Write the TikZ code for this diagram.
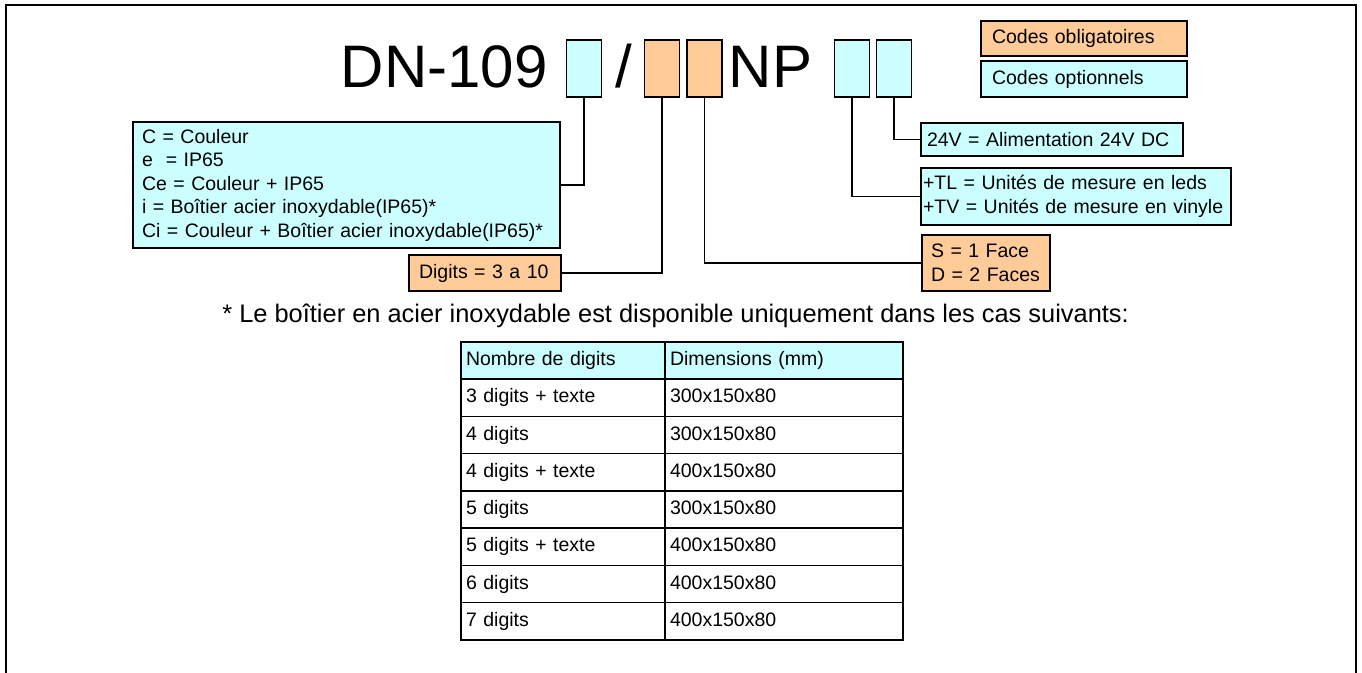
\documentclass[tikz,border=0pt]{standalone}
\usepackage{fontspec}
\setmainfont{Liberation Sans}
\usetikzlibrary{positioning}

\definecolor{optcyan}{HTML}{CCFFFF}
\definecolor{oblorange}{HTML}{FFCC99}

\begin{document}
\begin{tikzpicture}
	[x=0.5pt,y=-0.5pt,
	code node/.style={draw,line width=0.8pt,minimum width=17.5pt,minimum height=28.5pt,inner sep=0pt},
	text node/.style={draw,line width=0.8pt,align=left,inner ysep=0pt,font=\fontsize{9.75}{11.75}\selectfont},
	cell node/.style={draw,line width=0.75pt,anchor=north west,minimum height=18.625pt,inner xsep=2.5pt,inner ysep=0pt,outer sep=0pt,
		text height=7.2pt,text depth=2.2pt,align=left,font=\fontsize{9.75}{12}\selectfont},
	big/.style={inner sep=0pt,font=\fontsize{30}{36}\selectfont},
	elbow/.style={line width=0.9pt,to path={|- (\tikztotarget)}}]
	\useasboundingbox (0,0) rectangle (1362,673);
	\draw[line width=1pt] (6,673) -- (6,5) -- (1356,5) -- (1356,673);

	% reference code
	\node [big,anchor=base west] (t1) at (340.3,88) {DN-109};
	\node [big,anchor=base] (t2) at (624,88) {/};
	\node [big,anchor=base west] (t3) at (728.4,88) {NP};

	\node [code node,fill=optcyan] (1) at (584,68.5) {};
	\node [code node,fill=oblorange] (2) at (662,68.5) {};
	\node [code node,fill=oblorange] (3) at (704.5,68.5) {};
	\node [code node,fill=optcyan] (4) at (852,68.5) {};
	\node [code node,fill=optcyan] (5) at (894,68.5) {};

	% legend
	\node [text node,fill=oblorange,inner xsep=5.5pt,text width=92pt,minimum height=17.5pt] (l1) at (1084,38.5) {Codes obligatoires};
	\node [text node,fill=optcyan,inner xsep=5.5pt,text width=92pt,minimum height=18pt] (l2) at (1084,79) {Codes optionnels};

	% meanings
	\node [text node,fill=optcyan,inner xsep=4.5pt,text width=204.5pt,minimum height=63pt] (d1) at (346.5,185)
	{C = Couleur\\e\ \ = IP65\\Ce = Couleur + IP65\\i = Boîtier acier inoxydable(IP65)*\\Ci = Couleur + Boîtier acier inoxydable(IP65)*};
	\node [text node,fill=oblorange,inner xsep=5pt,text width=66pt,minimum height=18pt] (d2) at (485,273) {Digits = 3 a 10};
	\node [text node,fill=oblorange,inner xsep=4.5pt,text width=55pt,minimum height=28pt] (d3) at (986,263) {S = 1 Face\\D = 2 Faces};
	\node [text node,fill=optcyan,inner xsep=1pt,text width=153pt,minimum height=28.5pt] (d4) at (1076,196.5)
	{+TL = Unités de mesure en leds\\+TV = Unités de mesure en vinyle};
	\node [text node,fill=optcyan,inner xsep=3pt,text width=125pt,minimum height=16.5pt] (d5) at (1052,139.5) {24V = Alimentation 24V DC};

	\path[]
	(1.south) edge[elbow] (d1.east)
	(2.south) edge[elbow] (d2.east)
	(3.south) edge[elbow] (d3.west)
	(4.south) edge[elbow] (d4.west)
	(5.south) edge[elbow] (d5.west)
	;

	% note and table
	\node [inner sep=0pt,anchor=base west,font=\fontsize{12.7}{15}\selectfont] (note) at (222,323)
	{* Le boîtier en acier inoxydable est disponible uniquement dans les cas suivants:};

	\node [cell node,fill=optcyan,text width=97pt] (h1) at (461,342) {Nombre de digits};
	\node [cell node,fill=optcyan,text width=114pt] (h2) at (h1.north east) {Dimensions (mm)};
	\node [cell node,text width=97pt] (a1) at (h1.south west) {3 digits + texte};
	\node [cell node,text width=114pt] (b1) at (a1.north east) {300x150x80};
	\node [cell node,text width=97pt] (a2) at (a1.south west) {4 digits};
	\node [cell node,text width=114pt] (b2) at (a2.north east) {300x150x80};
	\node [cell node,text width=97pt] (a3) at (a2.south west) {4 digits + texte};
	\node [cell node,text width=114pt] (b3) at (a3.north east) {400x150x80};
	\node [cell node,text width=97pt] (a4) at (a3.south west) {5 digits};
	\node [cell node,text width=114pt] (b4) at (a4.north east) {300x150x80};
	\node [cell node,text width=97pt] (a5) at (a4.south west) {5 digits + texte};
	\node [cell node,text width=114pt] (b5) at (a5.north east) {400x150x80};
	\node [cell node,text width=97pt] (a6) at (a5.south west) {6 digits};
	\node [cell node,text width=114pt] (b6) at (a6.north east) {400x150x80};
	\node [cell node,text width=97pt] (a7) at (a6.south west) {7 digits};
	\node [cell node,text width=114pt] (b7) at (a7.north east) {400x150x80};
	\draw[line width=1.2pt] (h1.north west) rectangle (b7.south east);
\end{tikzpicture}
\end{document}
